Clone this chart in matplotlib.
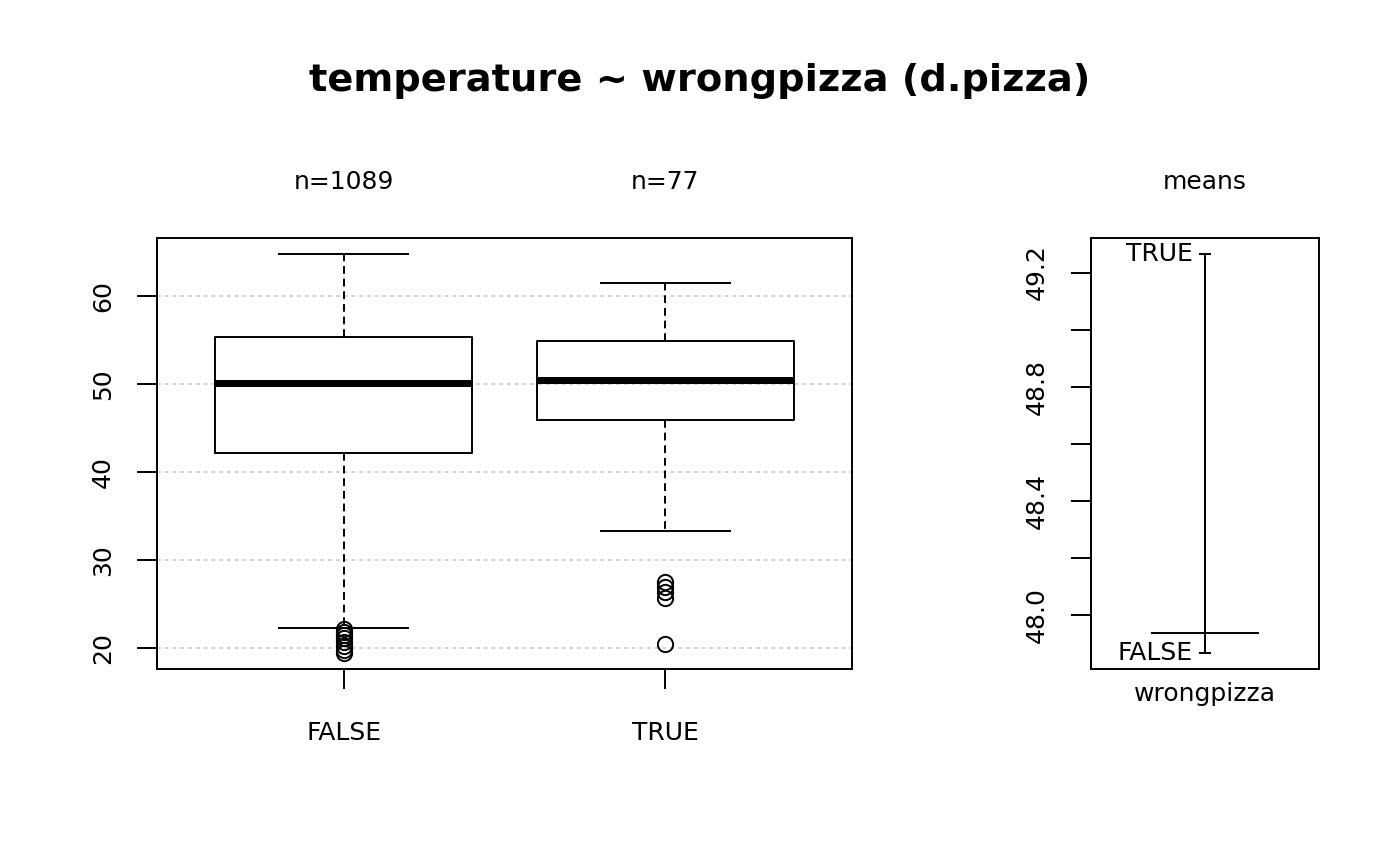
import matplotlib
matplotlib.use("Agg")
import matplotlib.pyplot as plt
from matplotlib.ticker import FixedLocator

#Dados
grupos = ["FALSE", "TRUE"]
contagens = [1089, 77]
bigode_inf = [22.3, 33.3]
q1 = [42.2, 45.9]
mediana = [50.1, 50.45]
q3 = [55.3, 54.9]
bigode_sup = [64.8, 61.5]
outliers_false = [22.15, 21.8, 21.5, 21.1, 20.7, 20.2, 19.8, 19.4]
outliers_true = [27.5, 26.9, 26.4, 25.7, 20.45]

medias = [47.867, 49.265]
media_geral = 47.937

yticks_box = [20, 30, 40, 50, 60]
yticks_medias = [48.0, 48.2, 48.4, 48.6, 48.8, 49.0, 49.2]
ylabels_medias = ["48.0", "", "48.4", "", "48.8", "", "49.2"]

plt.rcParams["font.family"] = "DejaVu Sans"
plt.rcParams["font.size"] = 18

lw = 1.4

fig = plt.figure(figsize=(14, 8.66), dpi=100)
ax = fig.add_axes([157/1400, 1-669/866, 695/1400, 431/866])
ax2 = fig.add_axes([1091/1400, 1-669/866, 228/1400, 431/866])

#Boxplot
stats = []
outliers = [outliers_false, outliers_true]
for i in range(len(grupos)):
    stats.append({"whislo": bigode_inf[i], "q1": q1[i], "med": mediana[i],
                  "q3": q3[i], "whishi": bigode_sup[i], "fliers": outliers[i]})

for y in yticks_box:
    ax.axhline(y, color="lightgray", linestyle=(0, (2, 2)), linewidth=lw, zorder=0)

ax.bxp(stats, positions=[1, 2], widths=0.8, capwidths=0.4, patch_artist=False,
       boxprops=dict(color="black", linewidth=lw),
       medianprops=dict(color="black", linewidth=5, solid_capstyle="butt"),
       whiskerprops=dict(color="black", linewidth=lw, linestyle=(0, (4, 2.5))),
       capprops=dict(color="black", linewidth=lw),
       flierprops=dict(marker="o", markerfacecolor="none", markeredgecolor="black",
                       markersize=11, markeredgewidth=lw))

ax.set_xlim(0.42, 2.58)
ax.set_ylim(17.6, 66.6)
ax.set_xticks([1, 2])
ax.set_xticklabels(grupos)
ax.yaxis.set_major_locator(FixedLocator(yticks_box))
ax.set_yticklabels([str(v) for v in yticks_box], rotation=90, va="center")
ax.tick_params(axis="y", length=14.4, width=lw, pad=16)
ax.tick_params(axis="x", length=14.4, width=lw, pad=23)
for s in ax.spines.values():
    s.set_linewidth(lw)

for i, n in enumerate(contagens):
    ax.annotate(f"n={n}", xy=(i + 1, 1), xycoords=("data", "axes fraction"),
                xytext=(0, 40), textcoords="offset points", ha="center", va="center")

#Painel das médias
ax2.plot([1, 1], [medias[0], medias[1]], color="black", linewidth=lw)
for i, m in enumerate(medias):
    ax2.plot([0.975, 1.025], [m, m], color="black", linewidth=lw)
    ax2.text(0.943, m, grupos[i], ha="right", va="center")
ax2.plot([0.75, 1.25], [media_geral, media_geral], color="black", linewidth=lw)

ax2.set_xlim(0.46, 1.54)
ax2.set_ylim(47.811, 49.321)
ax2.set_xticks([])
ax2.yaxis.set_major_locator(FixedLocator(yticks_medias))
ax2.set_yticklabels(ylabels_medias, rotation=90, va="center")
ax2.tick_params(axis="y", length=14.4, width=lw, pad=16)
ax2.set_xlabel("wrongpizza", labelpad=9)
for s in ax2.spines.values():
    s.set_linewidth(lw)
ax2.annotate("means", xy=(1, 1), xycoords=("data", "axes fraction"),
             xytext=(0, 40), textcoords="offset points", ha="center", va="center")

fig.text(0.5, 1 - 81/866, "temperature ~ wrongpizza (d.pizza)",
         ha="center", va="center", fontsize=27.6, fontweight="bold")

fig.savefig("out.png", dpi=100)
